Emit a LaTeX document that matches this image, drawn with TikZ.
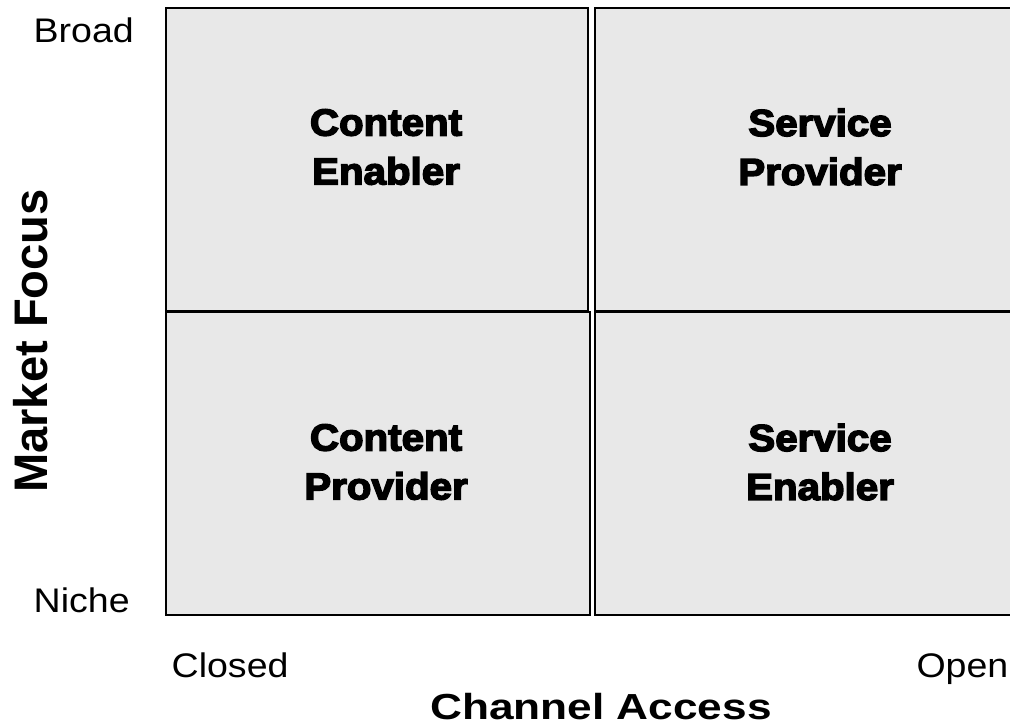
\documentclass[tikz,border=0pt]{standalone}
\usepackage{fontspec}
\newfontfamily\axisfont[FakeStretch=1.1]{Liberation Sans}
\newfontfamily\axistitlefont[FakeStretch=1.22]{Liberation Sans Bold}
\newfontfamily\sidetitlefont{Liberation Sans Bold}
\newfontfamily\quadfont[FakeBold=4,FakeStretch=1.07]{Liberation Sans Bold}
\definecolor{quadgray}{RGB}{232,232,232}

\begin{document}
\begin{tikzpicture}[x=0.01cm, y=-0.01cm,
	quad/.style={draw=black, line width=0.02cm, fill=quadgray},
	quadtext/.style={font=\quadfont\fontsize{10.7}{13.9}\selectfont, align=center, inner sep=0pt},
	endlabel/.style={font=\axisfont\fontsize{9.7}{11}\selectfont, inner sep=0pt}]
	\useasboundingbox (0,0) rectangle (1010,727);
	\clip (0,0) rectangle (1010,727);
	% quadrants
	\draw[quad] (166,8) rectangle (588,311);
	\draw[quad] (166,312) rectangle (590,615);
	\draw[quad] (595,8) rectangle (1030,311);
	\draw[quad] (595,312) rectangle (1030,615);
	\node[quadtext] (cenabler) at (386,147) {Content\\Enabler};
	\node[quadtext] (sprovider) at (820,147) {Service\\Provider};
	\node[quadtext] (cprovider) at (386,462) {Content\\Provider};
	\node[quadtext] (senabler) at (820,462) {Service\\Enabler};
	% axes
	\node[endlabel, anchor=base west] (broad) at (33,42) {Broad};
	\node[endlabel, anchor=base west] (niche) at (33,612) {Niche};
	\node[endlabel, anchor=base west] (closed) at (171,677) {Closed};
	\node[endlabel, anchor=base east] (open) at (1009,677) {Open};
	\node[font=\axistitlefont\fontsize{10.3}{12}\selectfont, inner sep=0pt, anchor=base] (channel) at (601,719) {Channel Access};
	\node[font=\sidetitlefont\fontsize{13.4}{15}\selectfont, inner sep=0pt, anchor=base, rotate=90] (market) at (47,341) {Market Focus};
\end{tikzpicture}
\end{document}
